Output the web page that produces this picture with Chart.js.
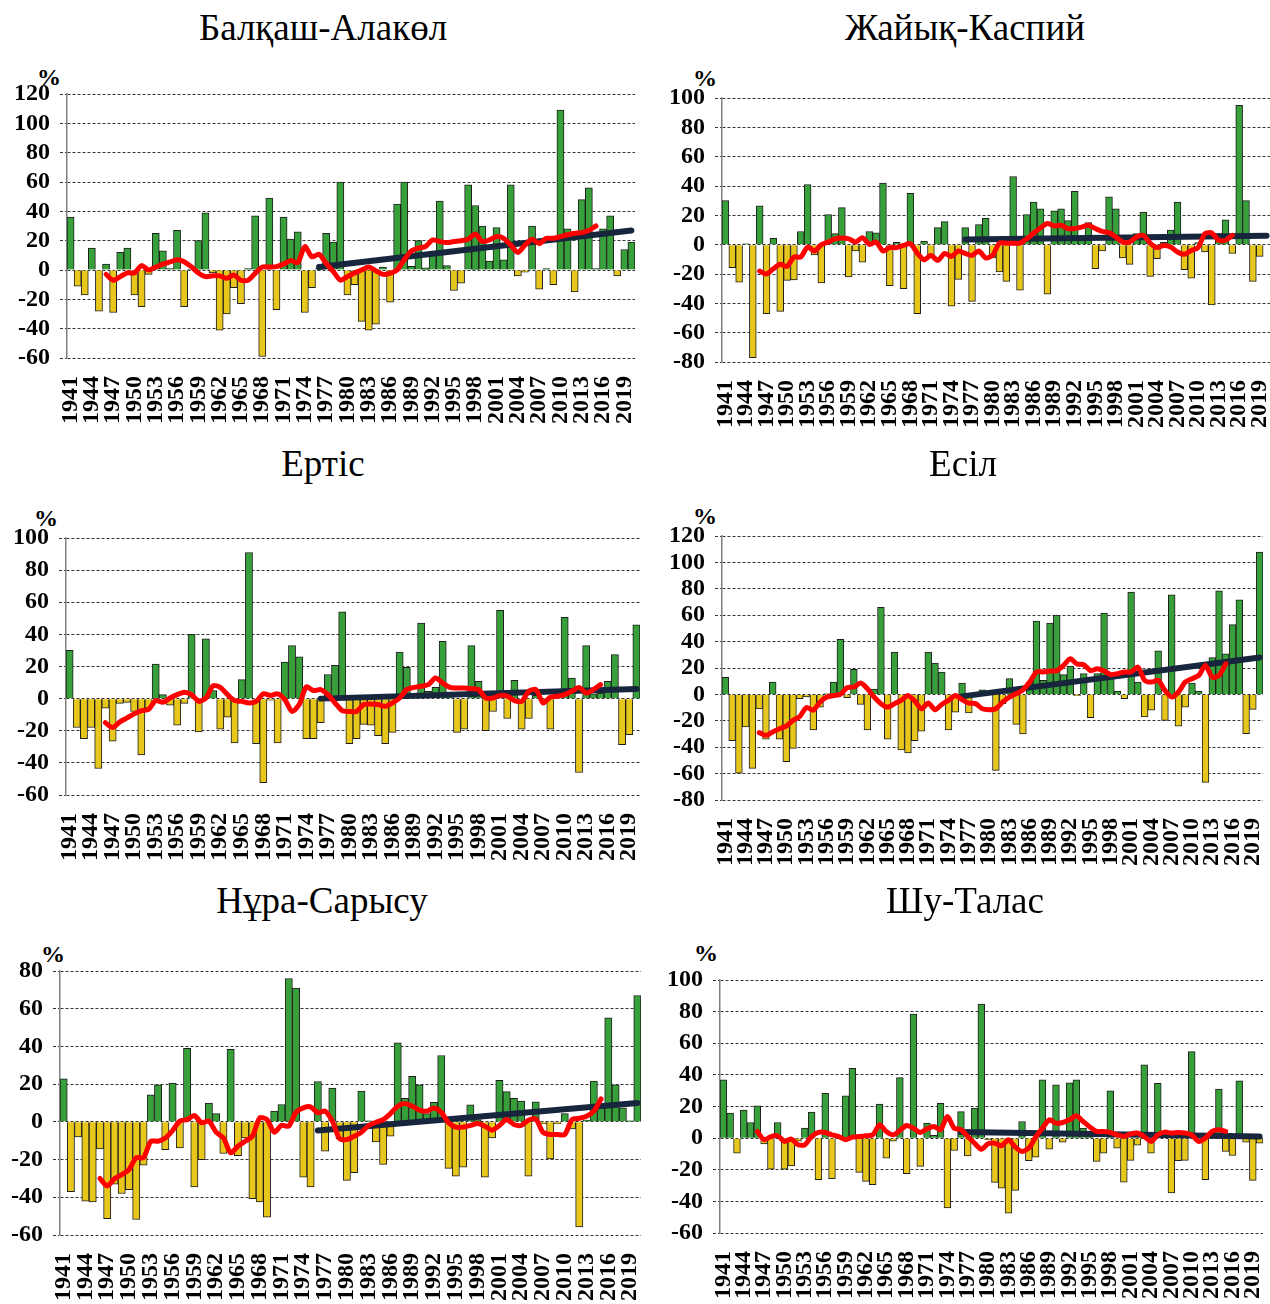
<!DOCTYPE html>
<html>
<head>
<meta charset="utf-8">
<script src="https://cdn.jsdelivr.net/npm/chart.js@4.4.0/dist/chart.umd.min.js"></script>
<style>
html,body{margin:0;padding:0;background:#fff;overflow:hidden;width:1270px;height:1304px;}
canvas{position:absolute;}
.ttl{position:absolute;font-family:'Liberation Serif','Times New Roman',serif;font-size:37px;color:#000;transform:translate(-50%,-50%);white-space:nowrap;}
.pct{position:absolute;font-family:'Liberation Serif','Times New Roman',serif;font-weight:bold;font-size:24px;color:#000;transform:translate(-50%,-50%);}
</style>
</head>
<body>
<script>
const years = ['1941','1942','1943','1944','1945','1946','1947','1948','1949','1950',
  '1951','1952','1953','1954','1955','1956','1957','1958','1959','1960',
  '1961','1962','1963','1964','1965','1966','1967','1968','1969','1970',
  '1971','1972','1973','1974','1975','1976','1977','1978','1979','1980',
  '1981','1982','1983','1984','1985','1986','1987','1988','1989','1990',
  '1991','1992','1993','1994','1995','1996','1997','1998','1999','2000',
  '2001','2002','2003','2004','2005','2006','2007','2008','2009','2010',
  '2011','2012','2013','2014','2015','2016','2017','2018','2019','2020'];

// moving average covers 1946..2015, trend line 1976..2020
const avgYears = years.slice(5, 75);
const trendYears = ['1976', '2020'];

const balkhashBars = [36,-11,-17,15,-28,4,-29,12,15,-17, -25,-3,25,13,1,27,-25,0.5,20,39,
  -2,-41,-30,-12,-23,1,37,-59,49,-27, 36,21,26,-29,-12,1,25,19,60,-17,
  -10,-35,-41,-37,2,-22,45,60,2.5,20, 1.5,12,47,3,-14,-9,58,44,30,6,
  29,7,58,-4,-1.5,30,-13,1,-10,109, 28,-15,48,56,1,28,37,-4,14,19];
const balkhashAvg = [-3,-7,-4.5,-2,-2,3,0,2,4,5.5, 7,5.7,2.3,-2,-4.5,-4,-4,-5.7,-3.4,-7,
  -7,-2.3,2,2,2.3,4,6.4,5,16,9, 10.7,4.5,-1,-7,-4.5,-2,0,2,-0.5,-3,
  -2.3,0,7,13,15,16,20.5,19.4,18.7,19.4, 20,21,24.6,19.4,20.5,22.8,21.6,17,12,17,
  21,18,21.6,21.6,22.8,24,25,25.5,27,30];
const balkhashTrend = [2, 27];

const zhaiykBars = [30,-15.7,-25.5,0.5,-77,26.4,-47,4.3,-45.5,-24.4, -24,9,41,-7,-26,20.5,7.5,25.3,-22,-4.3,
  -12,9,8,42,-28,1.6,-30,35,-47,2.5, -8.4,11.6,15.7,-42,-23.7,11.6,-38.7,13.7,18,-9,
  -18.5,-25,46.5,-31,20.5,29,24.4,-33.7,23,24.4, 16.4,36.4,3,15,-16.4,-4.3,32.6,24.4,-9,-13.4,
  7.5,22.3,-21.6,-9.6,1.6,10,29,-17,-22.8,1.5, -5,-41,7.5,17,-6,95,30,-25,-8,null];
const zhaiykAvg = [-18,-20,-16.4,-13.4,-14.8,-8.4,-8.4,-1.6,-4.3,0, 1.8,4,4.5,4,1.8,4.8,0.2,1.8,-4.3,-2,
  -2,-0.5,0.7,-5.7,-10.3,-7.3,-10.7,-6,-8,-4.3, -6,-7.3,-4.3,-9,-7.3,1,1,1,1,4,
  8,11.4,14.4,12.8,13.2,11,11,12,13.2,11, 9,8.2,5.2,1.8,1.8,5.2,6.4,1.1,-2,-0.5,
  -1.6,-5,-6.6,-3.9,-2,7.5,8,3,3,6.4];
const zhaiykTrend = [3.5, 6];

const ertisBars = [30,-18,-25,-18,-43.5,-6,-26.5,-3,-2.3,-8, -35,-6,21.5,2.5,-4,-16.6,-3,40,-20.7,37.3,
  5,-19,-11.6,-27.6,11.8,91,-28,-52.4,-1,-27.6, 22.8,33,26,-25,-25,-15,15,20.7,54,-28,
  -25,-16,-16.6,-23,-28,-21,29,19.5,2,47, 4.5,7,35.6,2,-21,-19,33,10.8,-20,-8,
  55,-12.4,11.4,-19,-12.4,2,-1,-19,1,50.6, 12.8,-46,33,3,3.5,10.8,27.4,-28.6,-22.4,46];
const ertisAvg = [-15,-18,-14.5,-12,-9.5,-7.5,-6.8,-1.2,-2.3,0.4, 2.5,4,2.5,-1.7,0.4,8,7,2.5,-1.2,-1.7,
  -2.7,-1.7,3,2,3,-0.6,-8,-3.7,7.3,5, 5.6,2.5,-2.7,-7.5,-8,-8,-3.7,-3.3,-3.7,-4.8,
  -2.7,0.4,5.6,7,7.7,8.7,12.8,9.7,7,6.6, 6.6,6.2,5.6,0.4,0.4,2,1.5,-1.2,-1.7,4.6,
  5.6,-2.7,0.8,1.5,2.5,4.6,7,3.5,5.6,8.7];
const ertisTrend = [0, 6];

const esilBars = [13,-35,-59.6,-24.7,-56,-11,-34,9.3,-34,-51, -41,-3.3,-2,-27,-9.6,0.5,9.3,41.7,-2.5,19,
  -7.6,-27,4,66,-34,32,-42,-44.4,-35,-27.8, 32,23.7,17,-27,-13.4,8.6,-14,1,3.5,1,
  -57.6,-7,12,-22.7,-30,9.3,55.5,10.6,54,60, 15,21.5,-1,15.7,-17.7,15.7,61.6,13,2.5,-3.3,
  77.5,9.3,-17,-12,33,-19.7,75.5,-24,-9.6,8.6, 2.5,-66.7,27.8,78.5,30.8,52.8,71.7,-29.8,-11.4,107.8];
const esilAvg = [-29,-31,-28.5,-26,-24,-19.7,-16.7,-10,-12,-5.8, -2,-0.8,0,5,5.6,8.6,4.3,-2,-7,-9.6,
  -7,-4.5,-0.8,-5,-10.9,-6.6,-11.6,-7.6,-4.5,-0.8, -4,-6.6,-7,-10.9,-11.6,-10.9,-5.8,-2,0.5,3.5,
  9.3,17,17,17.7,18,22,27,23,22.5,18, 19.4,17.7,15,15.7,17,17,20.7,10.6,9.3,10.6,
  3,-2,1.8,9.3,11.9,14.4,22,13,14.4,23.2];
const esilTrend = [-1.5, 28];

const nuraBars = [22.8,-37,-8,-42,-42.4,-14.3,-51.4,-33,-38,-36, -51.8,-23,14.3,19.6,-14.7,20.5,-13.8,39,-34.5,-20,
  10,4.4,-16.8,38.4,-17.9,-8.5,-40.7,-42.4,-50.6,5.7, 9.2,76,70.9,-29.3,-34.5,21.4,-15.6,17.9,-9,-31,
  -27,16.3,0.5,-10.6,-22.6,-7.6,41.9,12.5,24.2,19.6, 4.4,10.4,35.2,-24.7,-28.8,-24,9,1.2,-29.3,-8.5,
  22,16,12.5,11,-28.8,10.6,-1,-19.6,-1,4.4, -3.7,-55.7,1,21.6,8,55.2,19.6,7.4,0.5,67];
const nuraAvg = [-30,-34,-30.2,-28,-25.3,-19,-19,-10.3,-10.3,-8.5, -4.6,0.4,1.2,3.4,-0.5,0.4,-5.5,-8.5,-16.4,-12.9,
  -10.3,-7.6,2.1,1.2,-5.5,-1.8,-2.3,5.1,7.4,8, 4.8,5.7,0.4,-9,-9.4,-7.6,-5.5,-1.9,-0.2,1.2,
  4.4,8.3,9.7,8.3,6.2,5.7,7.4,5.1,-0.5,-2.8, -2.8,-1.9,-0.9,-2.3,-4.4,-1.9,1.2,-1.4,-1.9,0.9,
  1.6,-5.5,-6.7,-6.7,-6.7,1.2,1.9,3,5.7,12.2];
const nuraTrend = [-4.6, 10];

const shuBars = [36.8,15.8,-9.5,17.7,9.9,20.4,-3.6,-19.6,9.9,-19.6, -17.5,-2,6.3,16.4,-26.3,28.4,-25.7,1,26.7,44.2,
  -21.7,-27.4,-29.5,21.5,-12.6,-2,38.3,-22.5,78.5,-17.9, 9.5,1.7,22,-44.2,-7.8,16.8,-11.2,19,84.8,-1,
  -28,-31.6,-47.4,-33,10.5,-14.3,-12,36.8,-7,33.7, -2.5,35,36.8,6.3,1,-14.7,-9.5,29.9,-6.3,-27.8,
  -14.1,-4.4,46.3,-9.5,34.7,1,-34.7,-14.3,-14.1,54.7, -1,-26.3,2,31,-8.4,-11,36.2,-2.5,-26.7,-3.2];
const shuAvg = [4.2,-1,1,1.5,-2.1,-0.6,-4.2,-4.2,1,3.6, 3.6,2.1,1,-1,0.6,1,1.5,2.1,8.4,4.2,
  2.1,4.8,8,6.3,3.6,5.9,7.4,5.3,13.7,6.3, 5.3,1,-3.2,-7,-3.6,-3.2,-4.8,-1,-5.7,-8.4,
  -6.3,0.6,6.3,11.6,9.5,9.9,11.6,14.1,10.5,7, 4.2,4.2,3.6,2.1,1,2.7,3.2,1,-2.1,2.1,
  3.8,3.2,3.6,3.2,2.1,-2.1,0,4.2,5.3,4.2];
const shuTrend = [3.8, 1];

const panels = [
  {title:'Балқаш-Алакөл', bars:balkhashBars, avg:balkhashAvg, trend:balkhashTrend, min:-60, max:120},
  {title:'Жайық-Каспий', bars:zhaiykBars, avg:zhaiykAvg, trend:zhaiykTrend, min:-80, max:100},
  {title:'Ертіс', bars:ertisBars, avg:ertisAvg, trend:ertisTrend, min:-60, max:100},
  {title:'Есіл', bars:esilBars, avg:esilAvg, trend:esilTrend, min:-80, max:120},
  {title:'Нұра-Сарысу', bars:nuraBars, avg:nuraAvg, trend:nuraTrend, min:-60, max:80},
  {title:'Шу-Талас', bars:shuBars, avg:shuAvg, trend:shuTrend, min:-60, max:100}
];

// plot area [left, top, right, bottom], title centre, "%" centre
const layout = [
  {area:[67,94,635,358], title:[323,27], pct:[49,77]},
  {area:[722,98,1270,362], title:[965,27], pct:[705,78]},
  {area:[66,538,640,795], title:[323,463], pct:[46,518]},
  {area:[722,536,1263,800], title:[963,463], pct:[705,516]},
  {area:[60,971,641,1235], title:[322,900], pct:[53,954]},
  {area:[720,980,1263,1233], title:[965,900], pct:[706,953]}
];

const YW = 70, PT = 16, PR = 14, XH = 80;
const serif = "'Liberation Serif','Times New Roman',serif";
const GREEN = '#37a03a', YELLOW = '#e8c71c';

function noPad(s){ s.paddingLeft = 0; s.paddingRight = 0; s.paddingTop = 0; s.paddingBottom = 0; }

panels.forEach((p, k) => {
  const L = layout[k];
  const [l, t, r, b] = L.area;

  const tt = document.createElement('div');
  tt.className = 'ttl'; tt.textContent = p.title;
  tt.style.left = L.title[0] + 'px'; tt.style.top = L.title[1] + 'px';
  document.body.appendChild(tt);

  const pc = document.createElement('div');
  pc.className = 'pct'; pc.textContent = '%';
  pc.style.left = L.pct[0] + 'px'; pc.style.top = L.pct[1] + 'px';
  document.body.appendChild(pc);

  const cv = document.createElement('canvas');
  const w = r - l + YW + PR, h = b - t + PT + XH;
  cv.width = w; cv.height = h;
  cv.style.left = (l - YW) + 'px'; cv.style.top = (t - PT) + 'px';
  cv.style.width = w + 'px'; cv.style.height = h + 'px';
  document.body.appendChild(cv);

  new Chart(cv, {
    type: 'bar',
    data: {
      labels: years,
      datasets: [
        {type:'line', data: p.avg.map((v, i) => ({x: avgYears[i], y: v})), borderColor:'#ff0000', borderWidth:5,
          pointRadius:0, tension:0.25, borderCapStyle:'round', borderJoinStyle:'round', order:1},
        {type:'line', data: p.trend.map((v, i) => ({x: trendYears[i], y: v})), borderColor:'#17263d', borderWidth:6,
          pointRadius:0, borderCapStyle:'round', order:2},
        {type:'bar', data: p.bars, backgroundColor: p.bars.map(v => v >= 0 ? GREEN : YELLOW),
          borderColor:'#1e1e1e', borderWidth:1, barPercentage:1, categoryPercentage:1, order:3}
      ]
    },
    options: {
      responsive:false, animation:false,
      layout:{padding:{top:PT, right:PR, left:0, bottom:0}},
      plugins:{legend:{display:false}, tooltip:{enabled:false}},
      scales:{
        x:{
          grid:{display:false, drawTicks:false}, border:{display:false},
          ticks:{autoSkip:false, minRotation:90, maxRotation:90, padding:18, color:'#000',
            font:{family:serif, size:24, weight:'bold'},
            callback:(v, i) => i % 3 === 0 ? years[i] : null},
          afterFit: s => { s.height = XH; noPad(s); }
        },
        y:{
          min:p.min, max:p.max,
          ticks:{stepSize:20, autoSkip:false, padding:10, color:'#000', font:{family:serif, size:24, weight:'bold'}},
          grid:{color:'#333', lineWidth:1, tickLength:7, tickColor:'#333', tickBorderDash:[3,2]},
          border:{display:true, color:'#808080', width:1.5, dash:[3,2]},
          afterFit: s => { s.width = YW; noPad(s); }
        }
      }
    }
  });
});
</script>
</body>
</html>
